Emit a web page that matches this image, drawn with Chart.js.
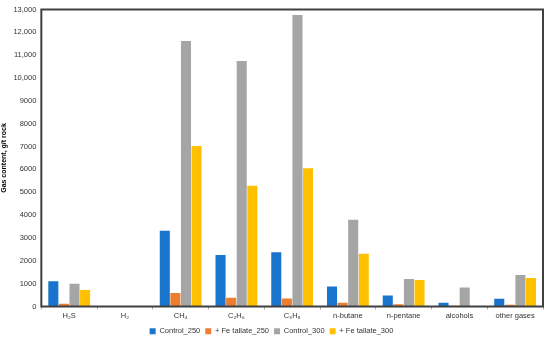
<!DOCTYPE html>
<html><head><meta charset="utf-8">
<script src="https://cdn.jsdelivr.net/npm/chart.js@4.4.1/dist/chart.umd.min.js"></script>
<style>html,body{margin:0;padding:0;background:#fff}#w{width:550px;height:338px}</style>
</head><body><div id="w"><canvas id="c"></canvas></div>
<script>
const categories = ["H\u2082S","H\u2082","CH\u2084","C\u2082H\u2086","C\u2083H\u2088","n-butane","n-pentane","alcohols","other gases"];
const control250 = [1100, 25, 3320, 2250, 2370, 880, 480, 160, 340];
const fe250      = [120, 15, 590, 380, 350, 160, 100, 30, 80];
const control300 = [1000, 15, 11620, 10750, 12760, 3800, 1200, 830, 1380];
const fe300      = [720, 20, 7030, 5280, 6050, 2310, 1160, 15, 1250];
const seriesNames = ["Control_250","+ Fe tallate_250","Control_300","+ Fe tallate_300"];
const yTicks = [0,1000,2000,3000,4000,5000,6000,7000,8000,9000,10000,11000,12000,13000];

const lab = "'Liberation Sans',sans-serif";
const frame = {id:'frame', afterDraw(ch){const a=ch.chartArea,c=ch.ctx;c.save();c.strokeStyle='#404040';c.lineWidth=2;c.strokeRect(a.left,a.top,a.right-a.left,a.bottom-a.top);c.restore();}};
new Chart(document.getElementById('c'),{
  type:'bar',
  data:{labels:categories,datasets:[
    {label:seriesNames[0],data:control250,backgroundColor:'#1874CD'},
    {label:seriesNames[1],data:fe250,backgroundColor:'#ED7D31'},
    {label:seriesNames[2],data:control300,backgroundColor:'#A5A5A5'},
    {label:seriesNames[3],data:fe300,backgroundColor:'#FFC000'}
  ]},
  options:{responsive:true,maintainAspectRatio:false,animation:false,
    layout:{padding:{top:3,right:7,left:0,bottom:-7}},
    datasets:{bar:{categoryPercentage:0.76,barPercentage:0.95}},
    plugins:{legend:{position:'bottom',labels:{usePointStyle:true,pointStyle:'rect',boxWidth:6,boxHeight:6,padding:5,font:{family:lab,size:7.5},color:'#333'}},tooltip:{enabled:false}},
    scales:{
      x:{grid:{display:true,drawOnChartArea:false,drawTicks:true,tickLength:3,color:'#aaa'},border:{display:false},ticks:{padding:2,font:{family:lab,size:7.5},color:'#333',maxRotation:0}},
      y:{min:0,max:13000,afterBuildTicks(ax){ax.ticks=yTicks.map(v=>({value:v}));},
        grid:{display:false,drawTicks:false},border:{display:false},
        ticks:{padding:5,font:{family:lab,size:7.5},color:'#333',callback:v=>v>=10000?v.toLocaleString('en-US'):String(v)},
        title:{display:true,text:'Gas content, g/t rock',font:{family:lab,size:7,weight:'bold'},color:'#000',padding:{top:0,bottom:0}}}
    }},
  plugins:[frame]
});
</script></body></html>
